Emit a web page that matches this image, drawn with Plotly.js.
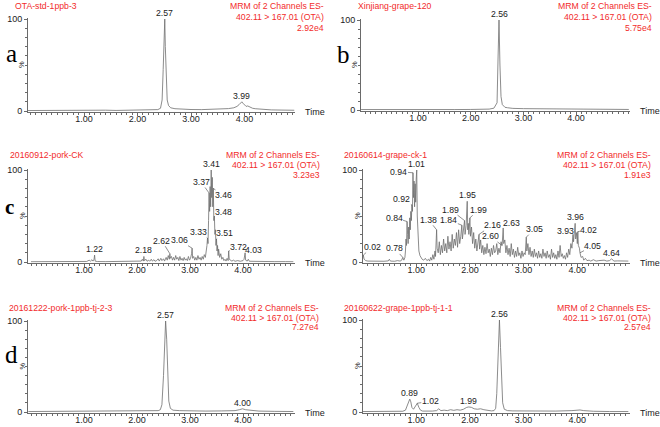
<!DOCTYPE html>
<html>
<head>
<meta charset="utf-8">
<script src="https://cdn.plot.ly/plotly-3.0.1.min.js"></script>
<style>
  html, body { margin: 0; padding: 0; background: #fff; }
  #chart { width: 660px; height: 427px; }
</style>
</head>
<body>
<div id="chart"></div>
<script>
// ---- data (time in min, intensity in %) ----
var aTime = [-0.05,0.1,0.3,0.5,0.7,0.9,1.05,1.1,1.2,1.4,1.6,1.8,2.0,2.2,2.3,2.38,2.43,2.46,2.48,2.495,2.51,2.52,2.535,2.555,2.58,2.62,2.7,2.8,3.0,3.2,3.4,3.6,3.7,3.8,3.86,3.9,3.93,3.95,3.97,4.0,4.03,4.06,4.08,4.11,4.15,4.2,4.3,4.5,4.7,4.93];
var aPct  = [0.5,0.6,0.5,0.8,0.6,0.7,1.2,0.8,0.7,0.9,0.6,0.8,0.7,1.0,1.2,1.5,3,12,45,90,100,70,30,12,6,3.5,2.5,2,1.6,1.5,1.8,2.2,2.6,3.5,5,7,9,10,8.5,6.5,5,5.5,4.8,3.8,3,2.5,1.8,1.2,1,0.8];

var bTime = [-0.08,0.2,0.5,0.8,1.1,1.4,1.7,2.0,2.2,2.35,2.44,2.5,2.52,2.537,2.555,2.575,2.6,2.65,2.7,2.8,3.0,3.2,3.5,3.8,4.0,4.3,4.6,5.0];
var bPct  = [0.5,0.4,0.5,0.4,0.5,0.4,0.5,0.6,0.8,1,2,8,60,100,50,15,6,3,2.5,1.8,1.5,1.4,1.2,1.3,1.1,1,0.8,0.6];

var cTime = [0,0.3,0.6,0.9,1.05,1.1,1.12,1.15,1.17,1.19,1.2,1.21,1.25,1.4,1.6,1.8,2.0,2.08,2.1,2.12,2.13,2.14,2.17,2.19,2.22,2.24,2.27,2.29,2.32,2.34,2.37,2.4,2.42,2.45,2.47,2.5,2.52,2.55,2.57,2.59,2.61,2.62,2.63,2.65,2.67,2.69,2.71,2.73,2.75,2.77,2.79,2.81,2.83,2.85,2.87,2.89,2.91,2.93,2.95,2.97,2.99,3.01,3.03,3.04,3.05,3.07,3.09,3.11,3.13,3.15,3.17,3.19,3.21,3.23,3.25,3.27,3.29,3.31,3.32,3.33,3.34,3.35,3.36,3.37,3.38,3.39,3.40,3.41,3.42,3.43,3.44,3.45,3.46,3.47,3.48,3.49,3.50,3.51,3.52,3.53,3.54,3.56,3.58,3.6,3.62,3.64,3.66,3.68,3.7,3.72,3.73,3.74,3.76,3.79,3.82,3.85,3.9,3.95,4.0,4.02,4.04,4.05,4.08,4.1,4.12,4.2,4.4,4.6,4.8,4.95];
var cPct  = [0.3,0.4,0.3,0.5,0.6,2,0.8,2.5,1,3,7.5,1,0.5,0.4,0.5,0.4,0.6,1,3,1,6,1.5,3,0.8,2,0.8,3,1,2.5,0.8,1.5,3.5,1,4,1.5,3.5,1,5,2,7,3,9,4,6,2,5,2,7,3,5,1.5,6,2,4,1.5,5,2,3.5,1.5,6,2,4,9,15,4,6,2,5,2,7,3,5,2,6,3,8,5,12,18,26,20,45,75,55,82,60,100,70,92,60,80,45,50,30,35,18,25,12,18,7,14,5,9,3,5,1.5,3,1,4,1.5,12,3,2,1,2,0.8,1.5,0.8,1.5,3,10,2,1,3,0.8,0.6,0.5,0.4,0.4,0.3];

var dTime = [0,0.015,0.03,0.06,0.1,0.2,0.3,0.4,0.48,0.5,0.52,0.6,0.65,0.7,0.73,0.75,0.77,0.79,0.8,0.81,0.82,0.83,0.84,0.85,0.86,0.87,0.88,0.89,0.9,0.91,0.92,0.93,0.94,0.95,0.96,0.97,0.98,0.99,1.0,1.01,1.02,1.03,1.04,1.05,1.07,1.09,1.11,1.14,1.17,1.2,1.23,1.25,1.27,1.29,1.31,1.33,1.35,1.36,1.37,1.38,1.39,1.41,1.43,1.45,1.47,1.49,1.51,1.53,1.55,1.57,1.59,1.61,1.63,1.65,1.67,1.69,1.71,1.73,1.75,1.77,1.79,1.81,1.83,1.85,1.86,1.88,1.9,1.91,1.93,1.95,1.96,1.97,1.98,2.0,2.01,2.03,2.05,2.07,2.09,2.11,2.13,2.15,2.17,2.18,2.2,2.22,2.24,2.26,2.28,2.3,2.32,2.34,2.36,2.38,2.4,2.42,2.44,2.46,2.48,2.5,2.52,2.54,2.56,2.58,2.6,2.62,2.63,2.65,2.67,2.69,2.71,2.73,2.75,2.77,2.79,2.81,2.83,2.85,2.87,2.89,2.91,2.93,2.95,2.97,2.99,3.01,3.03,3.05,3.06,3.08,3.1,3.12,3.14,3.16,3.18,3.2,3.22,3.24,3.26,3.28,3.3,3.32,3.34,3.36,3.38,3.4,3.42,3.44,3.46,3.48,3.5,3.52,3.54,3.56,3.58,3.6,3.62,3.64,3.66,3.68,3.7,3.72,3.74,3.76,3.78,3.8,3.82,3.84,3.86,3.88,3.9,3.92,3.93,3.95,3.96,3.97,3.99,4.0,4.01,4.02,4.04,4.05,4.07,4.1,4.12,4.15,4.18,4.22,4.25,4.3,4.35,4.4,4.5,4.55,4.6,4.64,4.68,4.75,4.85,4.95];
var dPct  = [3,7.5,3,1.5,1,0.8,1,0.8,1.2,3,1,0.8,1.5,1,2,5,2,5,12,25,18,44,30,20,38,25,48,35,55,45,62,55,97,70,88,60,85,65,90,100,50,30,20,12,7,4,3,2,4,1.5,3,1,5,2,8,3,12,6,20,35,15,10,22,8,18,10,25,12,20,10,28,14,22,12,30,15,25,18,32,16,35,20,28,40,25,38,45,30,40,66,35,42,30,48,28,38,20,32,15,25,12,22,30,14,24,10,18,8,16,9,20,10,14,6,15,8,18,10,12,20,8,15,10,22,18,37,20,24,10,18,8,15,6,20,8,14,5,12,6,16,7,10,4,12,6,10,8,27,12,20,8,16,6,12,5,14,6,10,4,12,5,9,4,14,6,10,4,12,5,8,3,14,5,10,4,8,3,12,5,18,6,9,4,7,3,10,5,14,8,20,15,30,22,35,42,25,32,20,33,18,15,10,5,6,2,4,1.5,2,1,2.5,1,1.5,2,1,1.5,3.5,1,1.2,0.8,1];

var eTime = [-0.05,0.3,0.6,0.9,1.2,1.5,1.7,1.9,2.1,2.3,2.4,2.44,2.47,2.5,2.52,2.54,2.56,2.58,2.6,2.63,2.68,2.8,3.0,3.3,3.6,3.85,3.93,3.99,4.05,4.12,4.3,4.6,4.95];
var ePct  = [0.5,0.6,0.5,0.6,0.7,1,1.5,1.4,1.6,1.3,1.5,2.5,8,40,85,100,80,35,12,4,2,1.5,1.2,1,1.2,1.5,2.5,3.5,2.5,2,1,0.7,0.5];

var fTime = [0,0.3,0.6,0.75,0.8,0.83,0.86,0.88,0.9,0.92,0.95,0.98,1.0,1.02,1.05,1.08,1.12,1.2,1.3,1.38,1.42,1.46,1.52,1.58,1.64,1.7,1.76,1.82,1.88,1.94,1.98,2.03,2.08,2.14,2.2,2.26,2.32,2.4,2.45,2.48,2.5,2.52,2.55,2.57,2.59,2.61,2.64,2.7,2.8,3.0,3.3,3.6,3.9,4.0,4.05,4.12,4.3,4.6,4.95];
var fPct  = [0.5,0.6,0.5,0.8,2,6,12,14,11,5,3,6,9,9.5,5,2,1,0.8,1,1.5,3.5,1.5,2,1.5,2.5,1.8,2.5,2,3,5,5.5,5,3.5,3,3.5,2.5,1.8,1.2,1.5,4,20,60,100,70,30,10,3,1.5,1.2,1,0.8,1,1.5,2.5,2.2,1.5,0.8,0.5,0.5];

// peak labels: text, time, intensity
var aLabText = ['2.57','3.99'];               var aLabTime = [2.51,3.95];  var aLabPct = [100,10];
var bLabText = ['2.56'];                      var bLabTime = [2.537];      var bLabPct = [100];
var cLabText = ['1.22','2.18','2.62','3.06','3.33','3.37','3.41','3.46','3.48','3.51','3.72','4.03'];
var cLabTime = [1.2,2.13,2.62,3.04,3.33,3.36,3.40,3.44,3.46,3.50,3.73,4.04];
var cLabPct  = [7.5,6,9,15,26,75,100,80,50,25,12,10];
var dLabText = ['0.02','0.78','0.84','0.92','0.94','1.01','1.38','1.84','1.89','1.95','1.99','2.16','2.60','2.63','3.05','3.93','3.96','4.02','4.05','4.64'];
var dLabTime = [0.015,0.75,0.83,0.92,0.94,1.01,1.38,1.85,1.90,1.95,2.0,2.17,2.60,2.62,3.05,3.92,3.96,4.01,4.05,4.64];
var dLabPct  = [7.5,5,44,62,97,100,35,40,45,66,48,30,18,37,27,30,42,33,10,3.5];
var eLabText = ['2.57','4.00'];               var eLabTime = [2.54,3.99];  var eLabPct = [100,3.5];
var fLabText = ['0.89','1.02','1.99','2.56']; var fLabTime = [0.88,1.02,1.97,2.55]; var fLabPct = [14,9.5,5.5,100];

var sampleNames = ['OTA-std-1ppb-3','Xinjiang-grape-120','20160912-pork-CK','20160614-grape-ck-1','20161222-pork-1ppb-tj-2-3','20160622-grape-1ppb-tj-1-1'];
var channelLine1 = 'MRM of 2 Channels ES-';
var channelLine2 = '402.11 > 167.01 (OTA)';
var maxCounts = ['2.92e4','5.75e4','3.23e3','1.91e3','7.27e4','2.57e4'];
var panelLetters = ['a','b','c','','d',''];

// ---- pixel geometry of each panel ----
// x0: pixel of t=0, s: px per min, xs/xe: axis line ends, y0/y100: pixels of 0 and 100 %
var geo = [
  {x0: 30.5,  s: 53.5, xs: 28,  xe: 295, y0: 111, y100: 19,  nameX: 13,  nameY: 6,   rightX: 326, lineDy: 11},
  {x0: 365.3, s: 52.7, xs: 361, xe: 630, y0: 110, y100: 20,  nameX: 356, nameY: 6,   rightX: 654, lineDy: 11},
  {x0: 31,    s: 53,   xs: 28,  xe: 295, y0: 262, y100: 170, nameX: 8,   nameY: 155, rightX: 322, lineDy: 10},
  {x0: 362.5, s: 53.7, xs: 363, xe: 630, y0: 262, y100: 170, nameX: 342, nameY: 155, rightX: 653, lineDy: 10},
  {x0: 31,    s: 53,   xs: 28,  xe: 295, y0: 412, y100: 321, nameX: 7,   nameY: 308, rightX: 321, lineDy: 9.5},
  {x0: 362.5, s: 53.7, xs: 363, xe: 630, y0: 412, y100: 320, nameX: 342, nameY: 308, rightX: 653, lineDy: 9.5}
];
var letterPos = [[11, 53, 25, false], [343, 54, 25, false], [9, 207, 21, true], null, [11, 354, 25, false], null];

// label offsets in px (0,0 = plain label above the peak)
var labOffsets = [
  [[0,0],[0,0]],
  [[0,0]],
  [[0,0],[0,0],[-8,-13],[-13,-8],[-9,-6],[-8,-11],[0,0],[10,7],[9,-4],[8,-6],[10,-4],[8,-3]],
  [[9,-8],[-8,-9],[-13,-4],[-10,-6],[-14,-1],[0,0],[-8,-10],[-13,-5],[-14,-11],[0,0],[9,-8],[13,-9],[-12,-9],[8,-5],[8,-8],[-8,-3],[0,0],[11,-2],[13,-7],[0,0]],
  [[0,0],[0,0]],
  [[0,0],[13,-2],[0,0],[0,0]]
];

var times = [aTime, bTime, cTime, dTime, eTime, fTime];
var pcts = [aPct, bPct, cPct, dPct, ePct, fPct];
var labTexts = [aLabText, bLabText, cLabText, dLabText, eLabText, fLabText];
var labTimes = [aLabTime, bLabTime, cLabTime, dLabTime, eLabTime, fLabTime];
var labPcts = [aLabPct, bLabPct, cLabPct, dLabPct, eLabPct, fLabPct];

var W = 660, H = 427;
var FONT = 'Liberation Sans, Arial, sans-serif';
var RED = '#f22b2b';
var AXIS = '#6a6a6a';

var data = [];
var layout = {
  width: W, height: H,
  margin: {l: 0, r: 0, t: 0, b: 0},
  paper_bgcolor: '#fff', plot_bgcolor: '#fff',
  showlegend: false,
  font: {family: FONT, size: 9, color: '#222'},
  annotations: []
};

geo.forEach(function (g, i) {
  var n = i === 0 ? '' : String(i + 1);
  var unit = (g.y0 - g.y100) / 100;
  var pad = 0.8;
  data.push({
    x: times[i], y: pcts[i],
    xaxis: 'x' + n, yaxis: 'y' + n,
    type: 'scatter', mode: 'lines',
    line: {color: '#6e6e6e', width: 0.8},
    hoverinfo: 'skip'
  });
  layout['xaxis' + n] = {
    domain: [g.xs / W, g.xe / W],
    range: [(g.xs - g.x0) / g.s, (g.xe - g.x0) / g.s],
    anchor: 'y' + n,
    showline: true, linecolor: AXIS, linewidth: 1,
    showgrid: false, zeroline: false,
    ticks: 'outside', ticklen: 3, tickcolor: AXIS, tickwidth: 1,
    ticklabelstandoff: -5,
    tickmode: 'array', tickvals: [1, 2, 3, 4], ticktext: ['1.00', '2.00', '3.00', '4.00'],
    tickfont: {family: FONT, size: 9, color: '#222'},
    minor: {tickmode: 'linear', tick0: 0, dtick: 0.1, ticks: 'outside', ticklen: 2, tickcolor: AXIS, showgrid: false},
    fixedrange: true
  };
  layout['yaxis' + n] = {
    domain: [1 - (g.y0 + pad * unit) / H, 1 - (g.y100 - pad * unit) / H],
    range: [-pad, 100 + pad],
    anchor: 'x' + n,
    showline: true, linecolor: AXIS, linewidth: 1,
    showgrid: false, zeroline: false,
    ticks: 'outside', ticklen: 3, tickcolor: AXIS,
    tickmode: 'array', tickvals: [0, 100], ticktext: ['0', '100'],
    tickfont: {family: FONT, size: 9, color: '#222'},
    minor: {tickmode: 'linear', tick0: 0, dtick: 10, ticks: 'outside', ticklen: 2, tickcolor: AXIS, showgrid: false},
    fixedrange: true
  };

  var ann = layout.annotations;
  // red header
  ann.push({xref: 'paper', yref: 'paper', x: g.nameX / W, y: 1 - g.nameY / H, xanchor: 'left', yanchor: 'middle',
    text: sampleNames[i], showarrow: false, font: {family: FONT, size: 8.7, color: RED}});
  [channelLine1, channelLine2, maxCounts[i]].forEach(function (t, k) {
    ann.push({xref: 'paper', yref: 'paper', x: g.rightX / W, y: 1 - (g.nameY + k * g.lineDy) / H,
      xanchor: 'right', yanchor: 'middle', text: t, showarrow: false,
      font: {family: FONT, size: 8.7, color: RED}});
  });
  // Time label and % label
  ann.push({xref: 'paper', yref: 'paper', x: (g.xe + 8) / W, y: 1 - (g.y0 + 1) / H, xanchor: 'left', yanchor: 'middle',
    text: 'Time', showarrow: false, font: {family: FONT, size: 9, color: '#222'}});
  ann.push({xref: 'paper', yref: 'paper', x: (g.xs - 6) / W, y: 1 - ((g.y0 + g.y100) / 2) / H, xanchor: 'center', yanchor: 'middle',
    text: '%', textangle: -90, showarrow: false, font: {family: FONT, size: 7.5, color: '#222'}});
  // panel letter
  var lp = letterPos[i];
  if (lp) {
    ann.push({xref: 'paper', yref: 'paper', x: lp[0] / W, y: 1 - lp[1] / H, xanchor: 'center', yanchor: 'middle',
      text: lp[3] ? '<b>' + panelLetters[i] + '</b>' : panelLetters[i], showarrow: false,
      font: {family: 'Liberation Serif, Times New Roman, serif', size: lp[2], color: '#000'}});
  }
  // peak labels
  labTexts[i].forEach(function (t, k) {
    var off = labOffsets[i][k];
    var a = {xref: 'x' + n, yref: 'y' + n, x: labTimes[i][k], y: labPcts[i][k], text: t,
      font: {family: FONT, size: 8.7, color: '#222'}};
    if (off[0] === 0 && off[1] === 0) {
      a.showarrow = false; a.yanchor = 'bottom'; a.yshift = -1;
    } else {
      a.showarrow = true; a.arrowhead = 0; a.arrowwidth = 0.6; a.arrowcolor = '#444';
      a.ax = off[0]; a.ay = off[1]; a.standoff = 0; a.borderpad = 0;
    }
    ann.push(a);
  });
});

Plotly.newPlot('chart', data, layout, {displayModeBar: false, staticPlot: true});
</script>
</body>
</html>
